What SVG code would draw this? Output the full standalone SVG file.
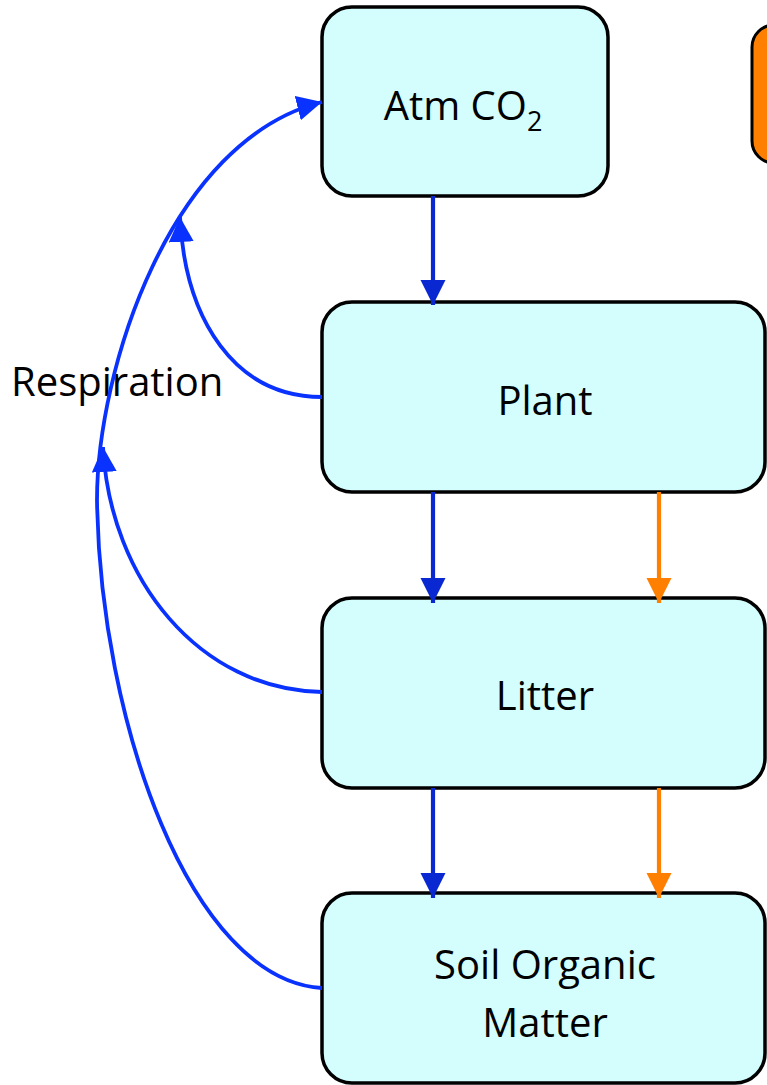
<svg xmlns="http://www.w3.org/2000/svg" width="767" height="1085" viewBox="0 0 767 1085">
<style>
.box{fill:#d4fefe;stroke:#000;stroke-width:3.5}
.lbl{font-family:"Open Sans","Liberation Sans",sans-serif;font-size:40px;fill:#000;text-anchor:middle}
.resp{fill:none;stroke:#0a32ff;stroke-width:3.8}
.flow{fill:none;stroke:#0a28d2;stroke-width:4.2}
.oflow{fill:none;stroke:#ff8000;stroke-width:4.2}
</style>
<defs>
<marker id="ab" markerUnits="userSpaceOnUse" markerWidth="26" markerHeight="26" refX="25" refY="12.5" orient="auto" viewBox="0 0 26 26"><path d="M0,0 L25,12.5 L0,25 z" fill="#0a32ff"/></marker>
<marker id="ad" markerUnits="userSpaceOnUse" markerWidth="26" markerHeight="26" refX="25" refY="12.5" orient="auto" viewBox="0 0 26 26"><path d="M0,0 L25,12.5 L0,25 z" fill="#0a28d2"/></marker>
<marker id="ao" markerUnits="userSpaceOnUse" markerWidth="26" markerHeight="26" refX="25" refY="12.5" orient="auto" viewBox="0 0 26 26"><path d="M0,0 L25,12.5 L0,25 z" fill="#ff8000"/></marker>
</defs>
<rect width="767" height="1085" fill="#fff"/>
<g id="legend-box"><rect x="752" y="25" width="60" height="138" rx="22" fill="#ff8000" stroke="#000" stroke-width="3"/></g>
<g id="atm"><rect class="box" x="322" y="7" width="286" height="189" rx="30"/><text class="lbl" x="463" y="120">Atm CO<tspan font-size="27" dy="11">2</tspan></text></g>
<g id="plant"><rect class="box" x="322" y="302" width="443" height="190" rx="30"/><text class="lbl" x="545" y="415">Plant</text></g>
<g id="litter"><rect class="box" x="322" y="598" width="443" height="190" rx="30"/><text class="lbl" x="545" y="710">Litter</text></g>
<g id="som"><rect class="box" x="322" y="893" width="443" height="190" rx="30"/><text class="lbl" x="545" y="979">Soil Organic</text><text class="lbl" x="545" y="1037">Matter</text></g>
<text x="11" y="396" font-family="'Open Sans','Liberation Sans',sans-serif" font-size="40">Respiration</text>
<g id="connectors">
<path class="flow" d="M433,196 V305" marker-end="url(#ad)"/>
<path class="flow" d="M433,492 V603" marker-end="url(#ad)"/>
<path class="oflow" d="M659,492 V603" marker-end="url(#ao)"/>
<path class="flow" d="M433,788 V898" marker-end="url(#ad)"/>
<path class="oflow" d="M659,788 V898" marker-end="url(#ao)"/>
<path class="resp" d="M322,988 C190,980 100,720 97,500 C97,370 170,140 322,102" marker-end="url(#ab)"/>
<path class="resp" d="M322,397 C235,397 185,320 180,217" marker-end="url(#ab)"/>
<path class="resp" d="M322,692 C200,690 110,580 103,447" marker-end="url(#ab)"/>
</g>
</svg>
